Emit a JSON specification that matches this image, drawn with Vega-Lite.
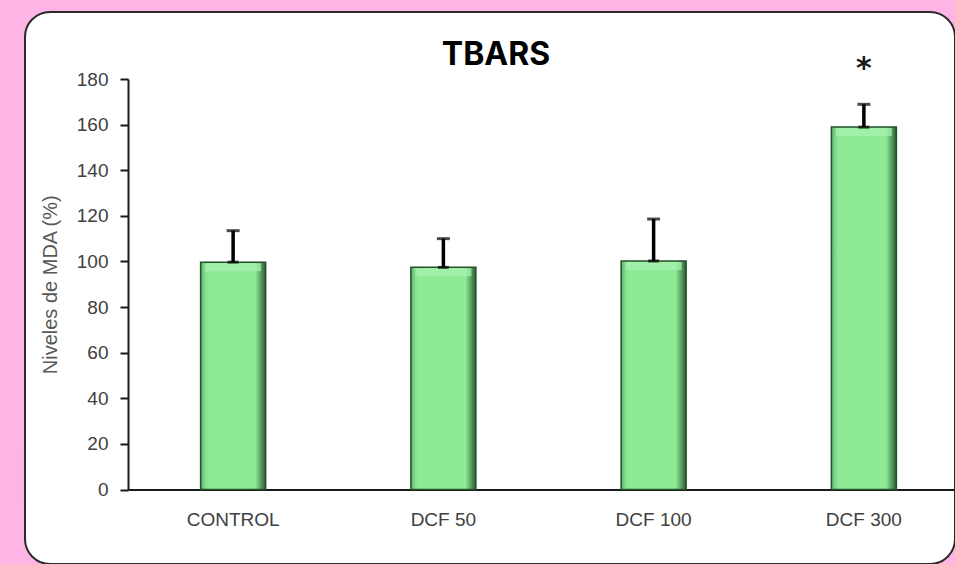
{
  "$schema": "https://vega.github.io/schema/vega-lite/v6.json",
  "width": 930,
  "height": 552,
  "autosize": {"type": "none"},
  "padding": {"left": 25, "top": 12, "right": 0, "bottom": 0},
  "background": "#FFB4E6",
  "config": {
    "view": {"fill": "white", "stroke": "#2b2b2b", "strokeWidth": 2, "cornerRadius": 25},
    "font": "Liberation Sans"
  },
  "title": {
    "text": "TBARS",
    "font": "Inter",
    "fontSize": 32,
    "fontWeight": "bold",
    "color": "black",
    "anchor": "middle",
    "frame": "group",
    "baseline": "alphabetic",
    "offset": 0,
    "dy": 85,
    "dx": 6
  },
  "data": {
    "values": [
      {"group": "CONTROL", "mean": 99.7, "upper": 113.5, "sig": ""},
      {"group": "DCF 50", "mean": 97.4, "upper": 110.0, "sig": ""},
      {"group": "DCF 100", "mean": 100.2, "upper": 118.6, "sig": ""},
      {"group": "DCF 300", "mean": 158.9, "upper": 168.9, "sig": "*"}
    ]
  },
  "encoding": {
    "x": {
      "field": "group",
      "type": "nominal",
      "sort": null,
      "scale": {"type": "band", "paddingInner": 0, "paddingOuter": 0, "rangeMin": 103, "rangeMax": 944},
      "axis": {
        "title": null,
        "orient": "bottom",
        "offset": -74.5,
        "ticks": false,
        "labelAngle": 0,
        "labelPadding": 21,
        "labelFont": "Liberation Sans",
        "labelFontSize": 19,
        "labelColor": "#404040",
        "domainColor": "#1a1a1a",
        "domainWidth": 2
      }
    },
    "y": {
      "field": "mean",
      "type": "quantitative",
      "scale": {"domain": [0, 180], "nice": false, "zero": true, "rangeMin": 477.5, "rangeMax": 67},
      "axis": {
        "title": "Niveles de MDA (%)",
        "offset": -103,
        "values": [0, 20, 40, 60, 80, 100, 120, 140, 160, 180],
        "grid": false,
        "domainColor": "#1a1a1a",
        "domainWidth": 2,
        "tickColor": "#1a1a1a",
        "tickWidth": 2,
        "tickSize": 8,
        "labelFont": "Liberation Sans",
        "labelFontSize": 19,
        "labelColor": "#404040",
        "labelPadding": 12,
        "titleFont": "Liberation Sans",
        "titleFontSize": 20,
        "titleFontWeight": "normal",
        "titleColor": "#595959",
        "titlePadding": 16
      }
    }
  },
  "layer": [
    {
      "mark": {
        "type": "bar",
        "width": 65,
        "stroke": "#24502a",
        "strokeWidth": 1.5,
        "color": {
          "gradient": "linear",
          "x1": 0, "x2": 1, "y1": 0, "y2": 0,
          "stops": [
            {"offset": 0, "color": "#5fae69"},
            {"offset": 0.07, "color": "#84e090"},
            {"offset": 0.12, "color": "#8deb96"},
            {"offset": 0.84, "color": "#8deb96"},
            {"offset": 0.92, "color": "#5aa565"},
            {"offset": 1, "color": "#2d5a33"}
          ]
        }
      }
    },
    {
      "mark": {"type": "tick", "size": 56, "thickness": 8, "color": "#a8f2b0", "yOffset": 5}
    },
    {
      "mark": {"type": "rule", "color": "black", "strokeWidth": 3.5},
      "encoding": {"y2": {"field": "upper"}}
    },
    {
      "mark": {"type": "tick", "size": 13, "thickness": 3, "color": "black"},
      "encoding": {"y": {"field": "upper", "type": "quantitative"}}
    },
    {
      "mark": {"type": "tick", "size": 11, "thickness": 3, "color": "black"}
    },
    {
      "transform": [{"filter": "datum.sig != ''"}],
      "mark": {"type": "text", "font": "DejaVu Sans", "fontSize": 30, "fontWeight": "bold", "color": "#1a1a1a", "baseline": "middle", "dy": -35},
      "encoding": {
        "y": {"field": "upper", "type": "quantitative"},
        "text": {"field": "sig"}
      }
    }
  ]
}
